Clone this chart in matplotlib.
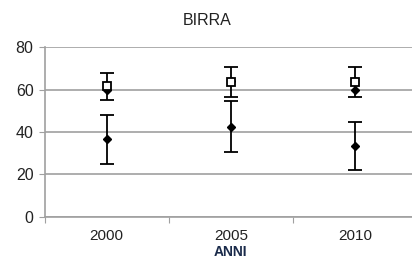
import matplotlib.pyplot as plt
import numpy as np

plt.rcParams['font.family'] = ['Liberation Sans', 'DejaVu Sans']

anni = ['2000', '2005', '2010']
basso = [36.5, 42.5, 33.5]
basso_err = [11.5, 12.0, 11.3]
medio = [60.0, 64.0, 59.6]
alto = [61.5, 63.7, 63.7]
alto_err = [6.5, 7.2, 7.2]

x = np.arange(len(anni))

fig = plt.figure(figsize=(4.12, 2.6), dpi=100)
ax = fig.add_axes([0.1085, 0.1673, 0.9036, 0.6508])

ax.errorbar(x, basso, yerr=basso_err, fmt='D', color='black', ms=4.5,
            ecolor='black', elinewidth=1.3, capsize=5, capthick=1.3, zorder=3)
ax.plot(x, medio, 'D', color='black', ms=4.5, zorder=3)
ax.errorbar(x, alto, yerr=alto_err, fmt='s', mfc='white', mec='black', mew=1.3,
            ms=5.5, ecolor='black', elinewidth=1.3, capsize=5, capthick=1.3, zorder=4)

ax.set_xlim(-0.5, 2.5)
ax.set_ylim(0, 80)
ax.set_yticks([0, 20, 40, 60, 80])
ax.yaxis.grid(True, color='#a0a0a0', linewidth=1.2)
ax.set_axisbelow(True)

ax.set_xticks([-0.5, 0.5, 1.5, 2.5])
ax.set_xticklabels([])
ax.set_xticks(x, minor=True)
ax.set_xticklabels(anni, minor=True)
ax.tick_params(axis='x', which='minor', length=0, pad=9, labelsize=11,
               labelcolor='#222222')
ax.tick_params(axis='x', which='major', length=4, color='#a0a0a0')
ax.tick_params(axis='y', length=4, color='#a0a0a0', labelsize=11.5, pad=4,
               labelcolor='#222222')

for s in ['top', 'right']:
    ax.spines[s].set_visible(False)
for s in ['left', 'bottom']:
    ax.spines[s].set_color('#a0a0a0')
    ax.spines[s].set_linewidth(1.2)

fig.text(0.56, 1.0 / 260, 'ANNI', ha='center', va='bottom', fontsize=10,
         fontweight='bold', color='#1a2a4a')
fig.text(0.502, 0.92, 'BIRRA', ha='center', va='center', fontsize=11.5,
         color='#222222')

fig.savefig('out.png', dpi=100)
